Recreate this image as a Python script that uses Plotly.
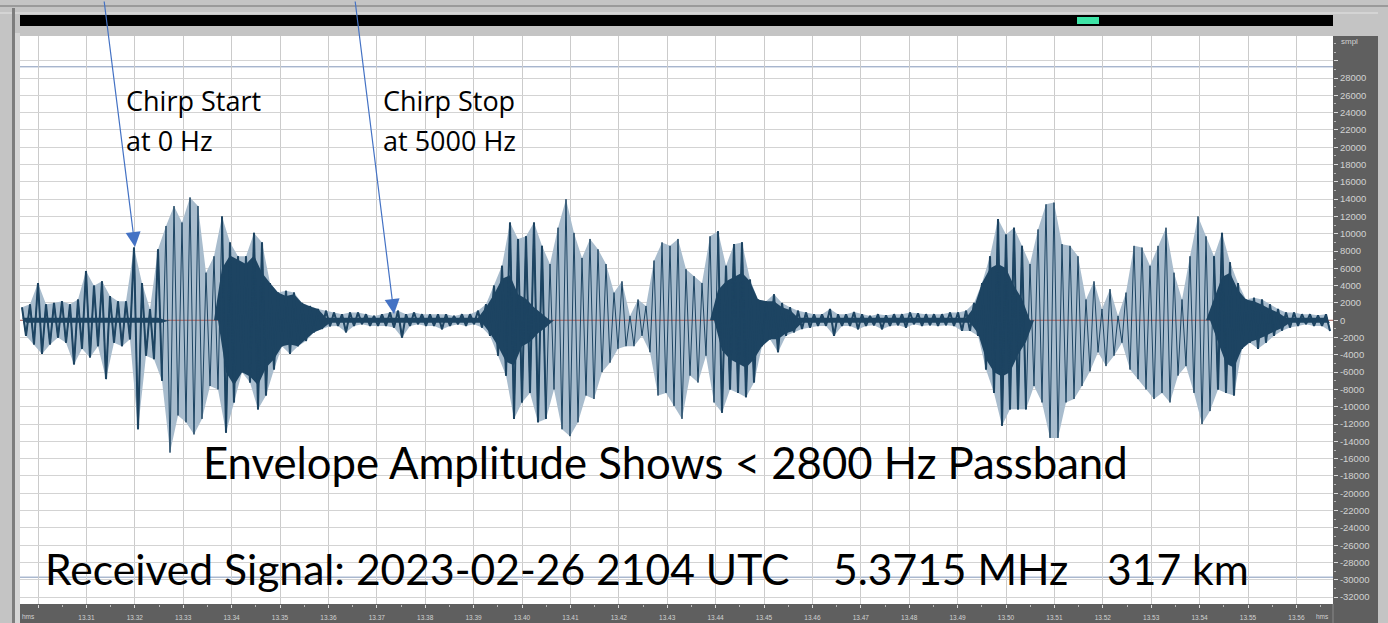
import plotly.graph_objects as go

# ---------------------------------------------------------------------------
# Received chirp waveform, 5.3715 MHz, 2023-02-26 2104 UTC
# Per-bin peak sample values (signed 16-bit counts), bins of equal duration.
# ---------------------------------------------------------------------------
t_start = 13.29628          # seconds (hms display)
bin_dt = 0.0016529          # seconds per bin

peak_hi = [
    1500, 1850, 4300, 1850, 2000, 2200, 1850, 2400, 5700, 4000,
    4500, 2800, 2200, 2200, 8400, 4300, 1300, 8200, 10900, 13200,
    11300, 14200, 13200, 5500, 7400, 12000, 9000, 7400,
    7400, 10100, 9000, 4300, 3200, 3400, 3200, 2000, 1650, 1300,
    1100, 900, 700, 900, 900, 700, 500, 700, 900, 1100,
    700, 900, 700, 700, 700, 700, 500,
    700, 700, 1100, 1850, 4000, 6300, 11300, 9400, 9700, 11300,
    8600, 6500, 10700, 14000, 10100, 7200, 9400, 8200, 6500, 3200,
    4500, 500, 2400, 1650, 6900, 9000, 8600,
    9400, 5900, 5100, 4300, 9700, 10300, 6300, 8800, 9000, 4700,
    2400, 2200, 3000, 2000, 1500, 1100, 900, 700, 700, 1300,
    700, 700, 950, 700, 500, 700, 580, 700,
    700, 900, 810, 700, 700, 700, 900, 900, 1100, 2000,
    4300, 7400, 11700, 9900, 10700, 8600, 6500, 10500, 13400, 13600,
    8800, 8600, 7400, 2400, 4500, 1300, 3600,
    500, 3200, 8600, 8400, 6300, 8600, 10700, 5500, 2400, 7400,
    12000, 9700, 7400, 10100, 6700, 4300, 2400, 2600, 2400, 1850,
    1300, 900, 900, 700, 700, 580, 700,
]

peak_lo = [
    -1800, -2800, -3900, -2800, -2000, -2600, -5100, -3300, -4300, -3000,
    -6800, -2600, -3000, -2200, -12600, -4100, -4500, -7000, -15300, -11000,
    -11800, -13200, -11400, -7600, -8000, -13000, -9500, -6000,
    -7200, -10300, -8700, -5700, -3000, -3900, -3000, -2400, -1400, -1000,
    -700, -650, -1400, -650, -460, -650, -650, -650, -850, -2000,
    -650, -460, -650, -650, -1040, -650, -460,
    -650, -460, -850, -1800, -4100, -6400, -11400, -9500, -8400, -11800,
    -11400, -8000, -12600, -13400, -11800, -8700, -9100, -6000, -4900, -3300,
    -3000, -3000, -1800, -3700, -8700, -8400, -9900,
    -11400, -6400, -7200, -4100, -9500, -10700, -8000, -8400, -8900, -7200,
    -3000, -2200, -3700, -1800, -1400, -1000, -850, -650, -650, -1800,
    -650, -650, -1040, -650, -580, -1040, -650, -580,
    -850, -460, -650, -580, -650, -580, -650, -1230, -1230, -1800,
    -5700, -8400, -12200, -10300, -10300, -10300, -7600, -9500, -13600, -13600,
    -9500, -9100, -7600, -5900, -3700, -5300, -4100,
    -2600, -5700, -6800, -8000, -9100, -8400, -9500, -6400, -5300, -8400,
    -12000, -10500, -8000, -8400, -8700, -3300, -2600, -3300, -2600, -1800,
    -1200, -850, -650, -460, -650, -650, -1230,
]

# half-height of the densely over-plotted (solid) part of each bin
dense_core = [
    300, 300, 300, 300, 300, 300, 300, 300, 300, 300,
    300, 300, 300, 300, 300, 300, 300, 300, 0, 0,
    0, 0, 0, 0, 0, 6000, 7500, 7000,
    6500, 7500, 5500, 4500, 3200, 2800, 3000, 2200, 1600, 1300,
    300, 300, 300, 300, 300, 300, 300, 300, 300, 300,
    300, 300, 300, 300, 300, 300, 300,
    300, 300, 300, 1500, 3000, 4800, 5200, 3000, 2500, 1500,
    800, 0, 0, 0, 0, 0, 0, 0, 0, 0,
    0, 0, 0, 0, 0, 0, 0,
    0, 0, 0, 0, 0, 3500, 4500, 5000, 5500, 4500,
    3000, 2500, 2200, 1500, 1200, 300, 300, 300, 300, 300,
    300, 300, 300, 300, 300, 300, 300, 300,
    300, 300, 300, 300, 300, 300, 300, 300, 300, 1500,
    4500, 6000, 6500, 6000, 4000, 2500, 0, 0, 0, 0,
    0, 0, 0, 0, 0, 0, 0,
    0, 0, 0, 0, 0, 0, 0, 0, 0, 0,
    0, 0, 2500, 5000, 5500, 3500, 2500, 2200, 1800, 1300,
    900, 300, 300, 300, 300, 300, 300,
]

# axis labelling
time_ticks = [round(13.30 + 0.01 * k, 2) for k in range(27)]
time_labels = [""] + ["%.2f" % v for v in time_ticks[1:]]
sample_ticks = list(range(-32000, 30001, 2000))
sample_labels = [("" if v == 30000 else str(v)) for v in sample_ticks]
ref_level_pos = 29300       # reference level lines
ref_level_neg = -29700

x_range = [13.29628, 13.56756]
y_range = [-32800, 32860]

# ---------------------------------------------------------------------------
n = len(peak_hi)
wave_t, wave_v = [], []
env_top_t, env_top_v, env_bot_t, env_bot_v = [], [], [], []
dense_t, dense_v = [], []
core_top_t, core_top_v, core_bot_t, core_bot_v = [], [], [], []
for i in range(n):
    ta = t_start + (i + 0.25) * bin_dt
    tb = t_start + (i + 0.75) * bin_dt
    wave_t += [ta, tb]
    wave_v += [peak_hi[i], peak_lo[i]]
    env_top_t.append(ta)
    env_top_v.append(peak_hi[i])
    env_bot_t.append(tb)
    env_bot_v.append(peak_lo[i])
    c = dense_core[i]
    if c > 0:
        dense_t += [ta, tb]
        dense_v += [peak_hi[i], peak_lo[i]]
    else:
        dense_t.append(None)
        dense_v.append(None)
    core_top_t.append(ta)
    core_top_v.append(min(peak_hi[i], c))
    core_bot_t.append(tb)
    core_bot_v.append(max(peak_lo[i], -c))

env_t = env_top_t + env_bot_t[::-1]
env_v = env_top_v + env_bot_v[::-1]
core_t = core_top_t + core_bot_t[::-1]
core_v = core_top_v + core_bot_v[::-1]

WAVE_DARK = "#1d4462"
WAVE_LIGHT = "#a8bccd"

fig = go.Figure()
# light body of the trace
fig.add_trace(go.Scatter(x=env_t, y=env_v, mode="lines", fill="toself",
                         fillcolor=WAVE_LIGHT, line=dict(width=0), hoverinfo="skip"))
# zero line
fig.add_trace(go.Scatter(x=x_range, y=[0, 0], mode="lines",
                         line=dict(color="#b0605a", width=1), hoverinfo="skip"))
# solid over-plotted core and its heavier excursions
fig.add_trace(go.Scatter(x=core_t, y=core_v, mode="lines", fill="toself",
                         fillcolor=WAVE_DARK, line=dict(width=0), hoverinfo="skip"))
fig.add_trace(go.Scatter(x=dense_t, y=dense_v, mode="lines", connectgaps=False,
                         line=dict(color=WAVE_DARK, width=2), hoverinfo="skip"))
# individual excursions
fig.add_trace(go.Scatter(x=wave_t, y=wave_v, mode="lines",
                         line=dict(color=WAVE_DARK, width=1), hoverinfo="skip"))

# ---------------------------------------------------------------------------
W, H = 1388, 623
L, R, T, B = 20, 55, 36, 19
PW, PH = W - L - R, H - T - B


def px(x):
    return (x - L) / PW


def py(y):
    return (H - B - y) / PH


PANEL = "#5f5f5f"
FRAME = "#c4c4c4"
shapes = [
    # reference level lines
    dict(type="line", xref="paper", yref="y", x0=0, x1=1, y0=ref_level_pos, y1=ref_level_pos,
         line=dict(color="#8296b8", width=1), layer="below"),
    dict(type="line", xref="paper", yref="y", x0=0, x1=1, y0=ref_level_neg, y1=ref_level_neg,
         line=dict(color="#8296b8", width=1), layer="below"),
    # axis panels
    dict(type="rect", xref="paper", yref="paper", x0=1, x1=px(1378), y0=0, y1=1,
         fillcolor=PANEL, line=dict(width=0), layer="below"),
    dict(type="rect", xref="paper", yref="paper", x0=0, x1=px(1378), y0=py(H), y1=0,
         fillcolor=PANEL, line=dict(width=0), layer="below"),
    dict(type="line", xref="paper", yref="paper", x0=1, x1=1, y0=py(H), y1=0,
         line=dict(color="#8a8a8a", width=1), layer="below"),
    # overview bar and position marker
    dict(type="rect", xref="paper", yref="paper", x0=0, x1=1, y0=py(26), y1=py(15),
         fillcolor="#000000", line=dict(width=0), layer="below"),
    dict(type="rect", xref="paper", yref="paper", x0=px(1077), x1=px(1099), y0=py(24), y1=py(17),
         fillcolor="#3ee3a6", line=dict(width=0), layer="below"),
    dict(type="line", xref="paper", yref="paper", x0=px(0), x1=px(W), y0=py(6), y1=py(6),
         line=dict(color="#9a9a9a", width=2), layer="below"),
    dict(type="line", xref="paper", yref="paper", x0=px(0), x1=px(1378), y0=py(13), y1=py(13),
         line=dict(color="#e4e4e4", width=1), layer="below"),
    # window edge
    dict(type="rect", xref="paper", yref="paper", x0=px(12), x1=px(15), y0=py(H), y1=py(8),
         fillcolor="#7d7d7d", line=dict(width=0), layer="below"),
    dict(type="rect", xref="paper", yref="paper", x0=px(15), x1=px(20), y0=py(H), y1=py(33),
         fillcolor="#d6d6d6", line=dict(width=0), layer="below"),
]

annotations = []


def label(text, x_left, baseline, size, family):
    annotations.append(dict(text=text, xref="paper", yref="paper",
                            x=px(x_left), y=py(baseline - 0.37 * size),
                            xanchor="left", yanchor="middle", showarrow=False,
                            font=dict(family=family, size=size, color="#000000")))


label("Chirp Start", 124, 110, 27, "Open Sans")
label("at 0 Hz", 124, 150, 27, "Open Sans")
label("Chirp Stop", 381, 110, 27, "Open Sans")
label("at 5000 Hz", 381, 150, 27, "Open Sans")
label("Envelope Amplitude Shows < 2800 Hz Passband", 201, 478, 43.7, "Lato")
label("Received Signal: 2023-02-26 2104 UTC", 43, 584, 42.6, "Lato")
label("5.3715 MHz", 831, 584, 42.6, "Lato")
label("317 km", 1105, 584, 42.6, "Lato")

ARROW = "#4472c4"
for tip, tail in [((135, 247), (104, -2)), ((394, 314), (355, -2))]:
    annotations.append(dict(text="", xref="paper", yref="paper",
                            x=px(tip[0]), y=py(tip[1]),
                            ax=tail[0] - tip[0], ay=tail[1] - tip[1],
                            showarrow=True, arrowhead=2, arrowsize=2.5,
                            arrowwidth=1.2, arrowcolor=ARROW))

Y_FONT = dict(family="Arial", size=9.5, color="#d2d2d2")
X_FONT = dict(family="Arial", size=6.5, color="#d2d2d2")
annotations.append(dict(text="smpl", xref="paper", yref="paper", x=px(1339), y=py(42),
                        xanchor="left", yanchor="middle", showarrow=False,
                        font=dict(family="Arial", size=8, color="#d2d2d2")))
annotations.append(dict(text="hms", xref="paper", yref="paper", x=px(28), y=py(616),
                        xanchor="center", yanchor="middle", showarrow=False, font=X_FONT))
annotations.append(dict(text="hms", xref="paper", yref="paper", x=px(1322), y=py(616),
                        xanchor="center", yanchor="middle", showarrow=False, font=X_FONT))

fig.update_layout(
    width=W, height=H,
    margin=dict(l=L, r=R, t=T, b=B, pad=0, autoexpand=False),
    paper_bgcolor=FRAME, plot_bgcolor="#ffffff",
    showlegend=False,
    shapes=shapes, annotations=annotations,
    xaxis=dict(range=x_range, tickvals=time_ticks, ticktext=time_labels, automargin=False,
               showgrid=True, gridcolor="#cbcbcb", gridwidth=1, zeroline=False,
               ticks="outside", ticklen=3, tickcolor="#dddddd", tickwidth=1,
               ticklabelstandoff=4,
               tickfont=X_FONT, showline=False, fixedrange=True,
               minor=dict(dtick=0.005, tick0=13.30, ticks="outside", ticklen=2,
                          tickcolor="#bbbbbb", showgrid=False)),
    yaxis=dict(range=y_range, side="right", tickvals=sample_ticks, ticktext=sample_labels,
               automargin=False,
               showgrid=True, gridcolor="#d3d3d3", gridwidth=1, zeroline=False,
               ticks="outside", ticklen=4, tickcolor="#dddddd", tickwidth=1,
               tickfont=Y_FONT, showline=False, fixedrange=True,
               minor=dict(dtick=1000, tick0=0, ticks="outside", ticklen=2,
                          tickcolor="#bbbbbb", showgrid=False)),
)

fig.write_html("out.html")
